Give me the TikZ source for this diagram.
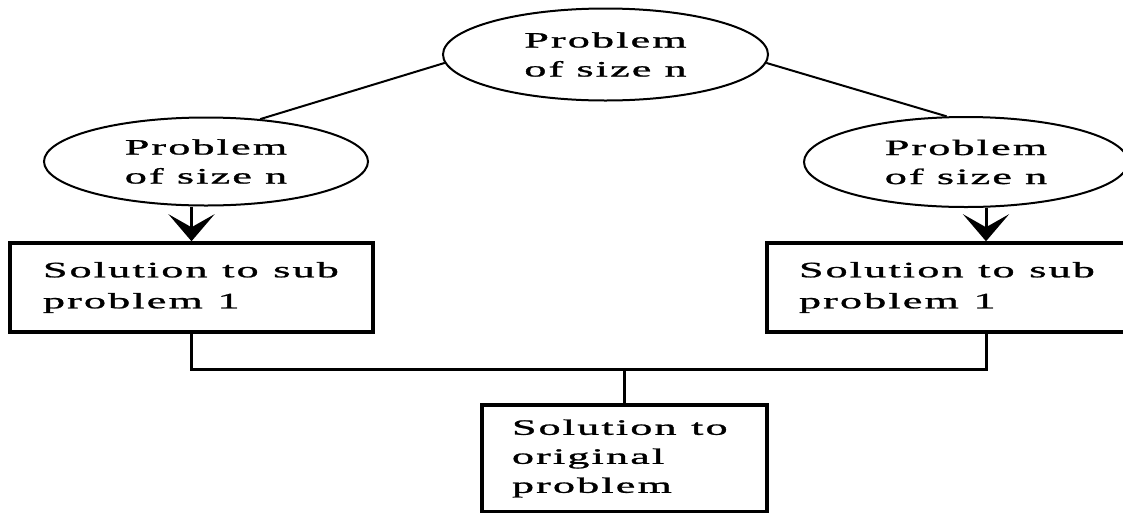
\documentclass[tikz,border=0pt]{standalone}
\usepackage{fontspec}
\usepackage{graphicx}
\setmainfont{Liberation Serif}[LetterSpace=5, FakeBold=1]
\usetikzlibrary{shapes.geometric, arrows.meta}
% one line of wide lettering
\newcommand{\wl}[1]{\scalebox{2.0}[1]{#1}}
\begin{document}
\begin{tikzpicture}[x=1pt, y=-1pt,
  lbl/.style={font=\fontsize{22}{29}\selectfont, text=black},
  oval/.style={lbl, ellipse, draw, line width=2pt, inner sep=0pt, align=center},
  solbox/.style={lbl, rectangle, draw, line width=3.5pt, align=left, inner ysep=0pt,
                 font=\fontsize{22}{31}\selectfont},
  link/.style={line width=2pt},
  down/.style={line width=3pt, -{Stealth[length=27pt, width=46pt, inset=13pt]}},
  merge/.style={line width=3pt}
]
\useasboundingbox (0,0) rectangle (1123,512);

% the problem and its two sub-problems
\node[oval, minimum width=325pt, minimum height=92pt] (top) at (605.5,54.5) {\wl{Problem}\\\wl{of size n}};
\node[oval, minimum width=324pt, minimum height=88pt] (l) at (206,161.5) {\wl{Problem}\\\wl{of size n}};
\node[oval, minimum width=324pt, minimum height=90pt] (r) at (966,162) {\wl{Problem}\\\wl{of size n}};

% partial solutions
\node[solbox, text width=297pt, inner xsep=33pt, minimum height=89pt] (lbox) at (191.5,287.5)
  {\wl{Solution to sub}\\\wl{problem 1}};
\node[solbox, text width=374pt, inner xsep=32pt, minimum height=89pt] (rbox) at (986,287.5)
  {\wl{Solution to sub}\\\wl{problem 1}};

% combined solution
\node[solbox, text width=225pt, inner xsep=30pt, minimum height=107pt,
      font=\fontsize{22}{29}\selectfont] (bbox) at (624.5,458.5)
  {\wl{Solution to}\\\wl{original}\\\wl{problem}};

% splitting
\draw[link] (top.183) -- (l.38);
\draw[link] (top.357) -- (r.113);

% solving
\draw[down] (lbox.north |- l.south) -- (lbox.north);
\draw[down] (rbox.north |- r.south) -- (rbox.north);

% combining
\coordinate (join) at (624.5,369);
\draw[merge] (lbox.south) |- (join) -| (rbox.south);
\draw[line width=2.2pt] (join) -- (bbox.north);
\end{tikzpicture}
\end{document}
